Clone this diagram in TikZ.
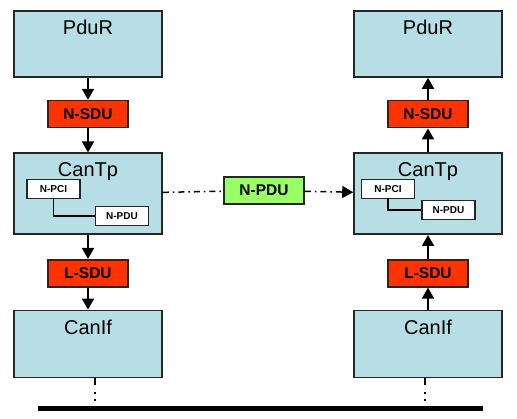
\documentclass[tikz,border=0pt]{standalone}
\usepackage{fontspec}
\setmainfont{Liberation Sans}
\usetikzlibrary{positioning,arrows.meta}
\definecolor{layerblue}{RGB}{183,222,228}
\definecolor{sdured}{RGB}{255,51,0}
\definecolor{pdugreen}{RGB}{153,255,102}
\tikzset{
  layer/.style = {shape=rectangle, draw=black!85, line width=1.6pt,
                  fill=layerblue, minimum width=148pt, minimum height=66pt,
                  inner sep=0pt},
  title/.style = {anchor=north, inner sep=0pt, yshift=-10pt,
                  font=\fontsize{20}{24}\selectfont},
  sdu/.style   = {shape=rectangle, draw=black!85, line width=1.6pt,
                  fill=sdured, minimum width=80pt, minimum height=27pt,
                  inner sep=0pt, font=\fontsize{15.5}{18}\selectfont\bfseries},
  pdu/.style   = {sdu, fill=pdugreen},
  pci/.style   = {shape=rectangle, draw=black!85, line width=1.4pt,
                  fill=white, minimum width=53pt, minimum height=19pt,
                  inner sep=0pt, font=\fontsize{10}{12}\selectfont\bfseries},
  flow/.style  = {line width=1.8pt, -{Triangle[length=11pt,width=12pt]}},
  dashdot/.style = {line width=1.5pt, dash pattern=on 6pt off 4pt on 1.5pt off 4pt},
  tap/.style   = {line width=1.4pt,
                  dash pattern=on 7pt off 7pt on 1.5pt off 5.5pt on 1.5pt off 5pt on 8pt off 20pt}
}

\begin{document}
\begin{tikzpicture}[x=1pt,y=-1pt]
\useasboundingbox (0,0) rectangle (517,419);

% sender and receiver stacks
\foreach \s/\x in {L/88,R/428} {
  \node [layer, label={[title]north:PduR}] (pdur\s) at (\x,44) {};
  \node [sdu, below=22pt of pdur\s] (nsdu\s) {N-SDU};
  \node [layer, minimum height=81pt, label={[title]north:CanTp},
         below=24pt of nsdu\s] (cantp\s) {};
  \node [sdu, below=24pt of cantp\s] (lsdu\s) {L-SDU};
  \node [layer, minimum height=67pt, label={[title]north:CanIf},
         below=22pt of lsdu\s] (canif\s) {};
}

% PCI + PDU inside CanTp
\node [pci] (npciL) at (53.5,189) {N-PCI};
\node [pci] (npduL) at (122,216) {N-PDU};
\node [pci] (npciR) at (388,189) {N-PCI};
\node [pci] (npduR) at (448.5,210) {N-PDU};
\draw [line width=1.4pt] (npciL.south) |- (npduL.west);
\draw [line width=1.4pt] (npciR.south) |- (npduR.west);

% down on the left, up on the right
\draw [flow] (pdurL) -- (nsduL);
\draw [flow] (nsduL) -- (cantpL);
\draw [flow] (cantpL) -- (lsduL);
\draw [flow] (lsduL) -- (canifL);
\draw [flow] (canifR) -- (lsduR);
\draw [flow] (lsduR) -- (cantpR);
\draw [flow] (cantpR) -- (nsduR);
\draw [flow] (nsduR) -- (pdurR);

% peer to peer
\node [pdu] (npdu) at (264,190.5) {N-PDU};
\draw [dashdot] (cantpL) -- (npdu);
\draw [dashdot, -{Triangle[length=11pt,width=12pt]}] (npdu) -- (cantpR);

% bus
\coordinate (busW) at (38,408.5);
\coordinate (busE) at (483,408.5);
\coordinate (tapL) at (95,408.5);
\coordinate (tapR) at (425,408.5);
\draw [line width=5.5pt] (busW) -- (busE);
\draw [tap] (tapL |- canifL.south) -- (tapL);
\draw [tap] (tapR |- canifR.south) -- (tapR);
\end{tikzpicture}
\end{document}
